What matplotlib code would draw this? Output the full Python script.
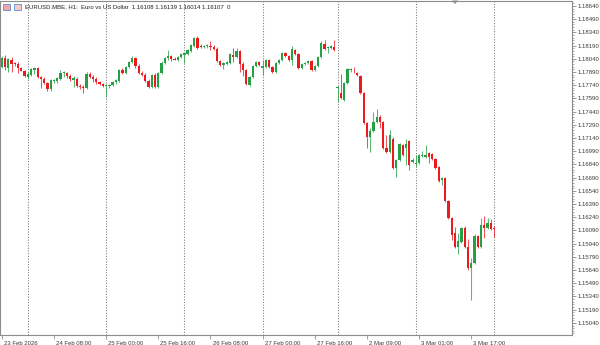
import matplotlib.pyplot as plt
from matplotlib.patches import Rectangle, Polygon
from matplotlib.ticker import AutoMinorLocator
from matplotlib.transforms import ScaledTranslation

# EURUSD H1 candles, 23 Feb 16:00 .. 4 Mar 00:00 (one per bar index)
opens = [
    1.17947, 1.18049, 1.17936, 1.18026, 1.17992, 1.17981, 1.17936, 1.17901,
    1.17833, 1.17856, 1.17913, 1.17936, 1.17833, 1.17811, 1.17765, 1.17697,
    1.17788, 1.17788, 1.17811, 1.17879, 1.17879, 1.17845, 1.17799, 1.17811,
    1.17731, 1.17720, 1.17708, 1.17867, 1.17833, 1.17811, 1.17776, 1.17754,
    1.17731, 1.17731, 1.17742, 1.17776, 1.17788, 1.17913, 1.17879, 1.17947,
    1.18004, 1.18049, 1.17958, 1.17879, 1.17856, 1.17788, 1.17720, 1.17856,
    1.17720, 1.17879, 1.17992, 1.18049, 1.18072, 1.18038, 1.18031, 1.18060,
    1.18083, 1.18095, 1.18129, 1.18185, 1.18276, 1.18185, 1.18174, 1.18185,
    1.18185, 1.18174, 1.18151, 1.18015, 1.17970, 1.17981, 1.17992, 1.18083,
    1.18060, 1.18129, 1.17981, 1.17913, 1.17742, 1.17833, 1.17958, 1.18004,
    1.17936, 1.17947, 1.18026, 1.17947, 1.17890, 1.17992, 1.18026, 1.18106,
    1.18072, 1.18026, 1.18140, 1.18095, 1.17936, 1.17981, 1.17992, 1.18015,
    1.17913, 1.17958, 1.18060, 1.18208, 1.18163, 1.18163, 1.18174, 1.17708,
    1.17652, 1.17572, 1.17765, 1.17913, 1.17913, 1.17879, 1.17845, 1.17652,
    1.17311, 1.17152, 1.17220, 1.17322, 1.17379, 1.17322, 1.17027, 1.16981,
    1.17129, 1.16800, 1.16890, 1.17061, 1.17027, 1.17106, 1.16868, 1.16845,
    1.16856, 1.16936, 1.16924, 1.16970, 1.16959, 1.16902, 1.16811, 1.16663,
    1.16686, 1.16425, 1.16232, 1.16061, 1.15902, 1.15959, 1.16118, 1.15902,
    1.15664, 1.15720, 1.16027, 1.15902, 1.16152, 1.16118, 1.16175, 1.16108,
]
highs = [
    1.18072, 1.18083, 1.18049, 1.18060, 1.18004, 1.18004, 1.17947, 1.17913,
    1.17890, 1.17936, 1.17947, 1.17947, 1.17845, 1.17833, 1.17776, 1.17811,
    1.17811, 1.17833, 1.17913, 1.17901, 1.17890, 1.17867, 1.17845, 1.17833,
    1.17754, 1.17742, 1.17890, 1.17890, 1.17856, 1.17833, 1.17788, 1.17765,
    1.17754, 1.17754, 1.17788, 1.17811, 1.17924, 1.17936, 1.17958, 1.18015,
    1.18072, 1.18060, 1.17981, 1.17901, 1.17879, 1.17811, 1.17867, 1.17879,
    1.17890, 1.18015, 1.18060, 1.18140, 1.18083, 1.18060, 1.18072, 1.18106,
    1.18117, 1.18151, 1.18208, 1.18288, 1.18299, 1.18208, 1.18197, 1.18208,
    1.18242, 1.18197, 1.18174, 1.18026, 1.18004, 1.18015, 1.18106, 1.18163,
    1.18163, 1.18140, 1.18004, 1.17924, 1.17845, 1.17970, 1.18015, 1.18015,
    1.18026, 1.18038, 1.18038, 1.17958, 1.18004, 1.18038, 1.18117, 1.18117,
    1.18083, 1.18185, 1.18151, 1.18106, 1.17992, 1.18004, 1.18026, 1.18026,
    1.17970, 1.18072, 1.18242, 1.18254, 1.18185, 1.18197, 1.18254, 1.17731,
    1.17867, 1.17776, 1.17936, 1.17936, 1.17947, 1.17890, 1.17856, 1.17663,
    1.17322, 1.17254, 1.17436, 1.17470, 1.17402, 1.17333, 1.17174, 1.17231,
    1.17152, 1.16902, 1.17084, 1.17072, 1.17129, 1.17118, 1.16913, 1.16947,
    1.16959, 1.16993, 1.17061, 1.16981, 1.16970, 1.16913, 1.16822, 1.16697,
    1.16697, 1.16436, 1.16243, 1.16129, 1.16061, 1.16129, 1.16141, 1.15993,
    1.15777, 1.16050, 1.16038, 1.16232, 1.16254, 1.16232, 1.16220, 1.16139,
]
lows = [
    1.17936, 1.17913, 1.17890, 1.17890, 1.17958, 1.17879, 1.17901, 1.17833,
    1.17811, 1.17845, 1.17867, 1.17822, 1.17708, 1.17754, 1.17674, 1.17674,
    1.17765, 1.17765, 1.17799, 1.17833, 1.17822, 1.17788, 1.17720, 1.17720,
    1.17697, 1.17652, 1.17697, 1.17822, 1.17776, 1.17754, 1.17742, 1.17720,
    1.17606, 1.17708, 1.17731, 1.17754, 1.17776, 1.17867, 1.17867, 1.17936,
    1.17992, 1.17936, 1.17867, 1.17845, 1.17776, 1.17708, 1.17708, 1.17708,
    1.17708, 1.17867, 1.17981, 1.18026, 1.18015, 1.18026, 1.18015, 1.18049,
    1.17992, 1.18083, 1.18117, 1.18174, 1.18151, 1.18163, 1.18163, 1.18163,
    1.18140, 1.18140, 1.18004, 1.17958, 1.17924, 1.17970, 1.17981, 1.18004,
    1.18049, 1.17890, 1.17845, 1.17742, 1.17731, 1.17822, 1.17947, 1.17958,
    1.17856, 1.17936, 1.17936, 1.17879, 1.17879, 1.17981, 1.18015, 1.18060,
    1.18015, 1.17970, 1.18083, 1.17924, 1.17924, 1.17970, 1.17981, 1.17901,
    1.17901, 1.17947, 1.18049, 1.18140, 1.18106, 1.18151, 1.18129, 1.17549,
    1.17583, 1.17561, 1.17754, 1.17890, 1.17879, 1.17845, 1.17640, 1.17299,
    1.17027, 1.16981, 1.17208, 1.17311, 1.17254, 1.17015, 1.16970, 1.16970,
    1.16788, 1.16697, 1.16879, 1.16936, 1.16834, 1.16777, 1.16856, 1.16811,
    1.16845, 1.16924, 1.16913, 1.16856, 1.16890, 1.16788, 1.16640, 1.16606,
    1.16413, 1.16220, 1.15982, 1.15891, 1.15823, 1.15948, 1.15891, 1.15641,
    1.15300, 1.15709, 1.15891, 1.15891, 1.16004, 1.16107, 1.16095, 1.16014,
]
closes = [
    1.18049, 1.17947, 1.18038, 1.17981, 1.17981, 1.17936, 1.17901, 1.17845,
    1.17867, 1.17924, 1.17936, 1.17833, 1.17811, 1.17765, 1.17697, 1.17799,
    1.17799, 1.17822, 1.17879, 1.17890, 1.17845, 1.17811, 1.17822, 1.17731,
    1.17720, 1.17708, 1.17867, 1.17833, 1.17811, 1.17776, 1.17754, 1.17731,
    1.17742, 1.17742, 1.17776, 1.17799, 1.17913, 1.17879, 1.17947, 1.18004,
    1.18049, 1.17958, 1.17879, 1.17856, 1.17788, 1.17720, 1.17856, 1.17720,
    1.17879, 1.17992, 1.18049, 1.18072, 1.18038, 1.18031, 1.18060, 1.18095,
    1.18106, 1.18140, 1.18197, 1.18276, 1.18163, 1.18174, 1.18185, 1.18197,
    1.18174, 1.18151, 1.18015, 1.17970, 1.17992, 1.18004, 1.18095, 1.18060,
    1.18129, 1.17981, 1.17913, 1.17754, 1.17833, 1.17958, 1.18004, 1.17970,
    1.17958, 1.18026, 1.17947, 1.17890, 1.17992, 1.18026, 1.18106, 1.18072,
    1.18026, 1.18151, 1.18095, 1.17936, 1.17981, 1.17992, 1.18015, 1.17913,
    1.17958, 1.18060, 1.18220, 1.18151, 1.18174, 1.18185, 1.18140, 1.17720,
    1.17595, 1.17765, 1.17924, 1.17924, 1.17908, 1.17856, 1.17652, 1.17311,
    1.17152, 1.17220, 1.17322, 1.17379, 1.17322, 1.17027, 1.16981, 1.17174,
    1.16800, 1.16890, 1.17072, 1.16947, 1.17072, 1.16834, 1.16890, 1.16856,
    1.16947, 1.16947, 1.16947, 1.16924, 1.16902, 1.16800, 1.16652, 1.16686,
    1.16425, 1.16232, 1.16038, 1.15902, 1.15970, 1.16118, 1.15902, 1.15664,
    1.15720, 1.16027, 1.15902, 1.16152, 1.16118, 1.16175, 1.16107, 1.16107,
]

header_text = "EURUSD.MBE, H1:  Euro vs US Dollar  1.16108 1.16139 1.16014 1.16107  0"
time_label_bars = [0, 16, 32, 48, 64, 80, 96, 112, 128, 144]
time_labels = ["23 Feb 2026", "24 Feb 08:00", "25 Feb 00:00", "25 Feb 16:00",
               "26 Feb 08:00", "27 Feb 00:00", "27 Feb 16:00", "2 Mar 09:00",
               "3 Mar 01:00", "3 Mar 17:00"]
day_start_bars = [8, 32, 56, 80, 103, 127, 151]
price_ticks = [1.18640, 1.18490, 1.18340, 1.18190, 1.18040, 1.17890, 1.17740,
               1.17590, 1.17440, 1.17290, 1.17140, 1.16990, 1.16840, 1.16690,
               1.16540, 1.16390, 1.16240, 1.16090, 1.15940, 1.15790, 1.15640,
               1.15490, 1.15340, 1.15190, 1.15040]

BULL = '#26a047'
BEAR = '#ec1a1f'
FRAME = '#8c8c8c'
TEXT = '#3a3a3a'
FONT = 'Liberation Sans'
FS = 4.3

W, H = 600, 345
fig = plt.figure(figsize=(W / 100, H / 100), dpi=100)
ax = fig.add_axes([0, 1 - 335 / H, 572 / W, 334 / H])

# candles
xs = list(range(len(closes)))
colors = [BULL if c >= o else BEAR for o, c in zip(opens, closes)]
ax.vlines(xs, lows, highs, colors=colors, linewidth=0.75, alpha=0.75, zorder=2)
bottoms = [min(o, c) for o, c in zip(opens, closes)]
heights = [max(abs(c - o), 0.00008) for o, c in zip(opens, closes)]
ax.bar(xs, heights, bottom=bottoms, width=0.7, color=colors, linewidth=0, zorder=3)

# day separators
for b in day_start_bars:
    ax.axvline(b, color='#777777', linestyle=(0, (1, 1.6)), linewidth=0.75, zorder=1)

ax.set_xlim(-0.55, 174.9)
ax.set_ylim(1.149024, 1.186966)

for s in ax.spines.values():
    s.set_color(FRAME)
    s.set_linewidth(0.8)

# price axis on the right
ax.yaxis.tick_right()
ax.set_yticks(price_ticks)
ax.set_yticklabels([f"{p:.5f}" for p in price_ticks], fontsize=FS, color=TEXT, family=FONT)
ax.yaxis.set_minor_locator(AutoMinorLocator(5))
ax.tick_params(axis='y', which='major', direction='out', length=3, width=0.6,
               color=FRAME, pad=1)
ax.tick_params(axis='y', which='minor', direction='out', length=1.5, width=0.5,
               color=FRAME)

# time axis
ax.set_xticks(time_label_bars)
ax.set_xticklabels(time_labels, fontsize=FS, color=TEXT, family=FONT)
ax.tick_params(axis='x', direction='out', length=3, width=0.6, color=FRAME, pad=1)
shift = ScaledTranslation(1.5 / 72, 0, fig.dpi_scale_trans)
for lab in ax.get_xticklabels():
    lab.set_horizontalalignment('left')
    lab.set_transform(lab.get_transform() + shift)

# header with the two little icons
fig.patches.append(Rectangle((3 / W, 1 - 10 / H), 7 / W, 6 / H, transform=fig.transFigure,
                             facecolor='#f2a6a6', edgecolor='#5a8fd8', linewidth=0.6))
fig.patches.append(Rectangle((14 / W, 1 - 10 / H), 7 / W, 6 / H, transform=fig.transFigure,
                             facecolor='#f7c9c9', edgecolor='#5a8fd8', linewidth=0.6))
fig.text(25 / W, 1 - 7 / H, header_text, fontsize=FS, color='#222222', family=FONT,
         va='center', ha='left')

# small shift marker at the top
fig.patches.append(Polygon([(452 / W, 1 - 0.5 / H), (458 / W, 1 - 0.5 / H), (455 / W, 1 - 4 / H)],
                           closed=True, transform=fig.transFigure, facecolor='#8a8a8a',
                           edgecolor='none'))

fig.savefig('out.png', dpi=100, facecolor='white')
